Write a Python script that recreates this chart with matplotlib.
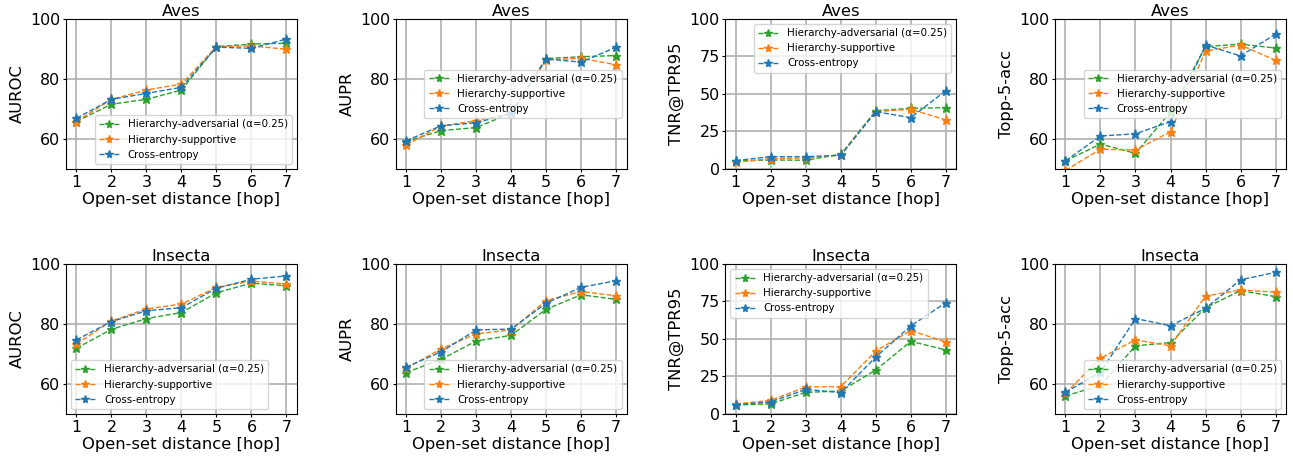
import matplotlib.pyplot as plt

hops = [1, 2, 3, 4, 5, 6, 7]
labels = ['Hierarchy-adversarial (α=0.25)', 'Hierarchy-supportive', 'Cross-entropy']
colors = ['tab:green', 'tab:orange', 'tab:blue']

# Aves
aves_auroc_adv = [65.8, 71.6, 73.2, 76.3, 90.8, 91.6, 91.9]
aves_auroc_sup = [65.8, 73.2, 76.3, 78.3, 90.8, 91.0, 89.9]
aves_auroc_ce = [66.9, 73.2, 75.2, 77.2, 90.6, 90.2, 93.3]

aves_aupr_adv = [59.1, 62.8, 63.8, 68.6, 86.8, 87.4, 87.8]
aves_aupr_sup = [58.0, 64.3, 66.1, 68.6, 86.3, 86.9, 84.7]
aves_aupr_ce = [59.4, 64.4, 65.4, 68.6, 86.7, 85.6, 90.6]

aves_tnr_adv = [5.3, 6.0, 5.8, 9.8, 38.9, 40.4, 40.9]
aves_tnr_sup = [4.4, 6.9, 7.3, 9.3, 38.2, 39.8, 32.7]
aves_tnr_ce = [5.6, 8.2, 8.2, 9.1, 38.2, 34.2, 52.2]

aves_top5_adv = [52.7, 58.3, 55.2, 69.0, 90.8, 91.6, 90.3]
aves_top5_sup = [49.5, 56.6, 56.3, 62.4, 89.3, 91.3, 86.2]
aves_top5_ce = [52.7, 61.0, 61.7, 65.8, 91.3, 87.7, 94.9]

# Insecta
ins_auroc_adv = [71.9, 78.2, 81.8, 83.8, 90.4, 93.6, 92.7]
ins_auroc_sup = [73.3, 81.0, 85.0, 86.6, 92.2, 94.3, 93.3]
ins_auroc_ce = [74.7, 80.8, 84.4, 85.4, 91.9, 94.9, 96.0]

ins_aupr_adv = [63.8, 68.2, 74.3, 76.2, 84.9, 89.7, 88.2]
ins_aupr_sup = [65.2, 71.7, 76.7, 78.0, 87.8, 90.8, 89.4]
ins_aupr_ce = [65.6, 70.7, 78.0, 78.3, 86.9, 92.2, 94.4]

ins_tnr_adv = [6.0, 6.7, 14.4, 15.3, 29.3, 48.4, 42.7]
ins_tnr_sup = [6.7, 9.1, 18.0, 18.2, 42.0, 55.6, 48.0]
ins_tnr_ce = [6.2, 8.0, 16.4, 14.2, 38.0, 58.7, 74.2]

ins_top5_adv = [56.0, 59.5, 72.7, 73.8, 85.4, 91.1, 89.1]
ins_top5_sup = [56.9, 68.6, 74.7, 72.7, 89.3, 91.3, 90.6]
ins_top5_ce = [57.2, 63.9, 81.8, 79.4, 85.2, 94.7, 97.2]

panels = [
    ('Aves', 'AUROC', [aves_auroc_adv, aves_auroc_sup, aves_auroc_ce], 'lower right'),
    ('Aves', 'AUPR', [aves_aupr_adv, aves_aupr_sup, aves_aupr_ce], 'center right'),
    ('Aves', 'TNR@TPR95', [aves_tnr_adv, aves_tnr_sup, aves_tnr_ce], 'upper right'),
    ('Aves', 'Topp-5-acc', [aves_top5_adv, aves_top5_sup, aves_top5_ce], 'center right'),
    ('Insecta', 'AUROC', [ins_auroc_adv, ins_auroc_sup, ins_auroc_ce], 'lower left'),
    ('Insecta', 'AUPR', [ins_aupr_adv, ins_aupr_sup, ins_aupr_ce], 'lower right'),
    ('Insecta', 'TNR@TPR95', [ins_tnr_adv, ins_tnr_sup, ins_tnr_ce], 'upper left'),
    ('Insecta', 'Topp-5-acc', [ins_top5_adv, ins_top5_sup, ins_top5_ce], 'lower right'),
]

fig, axes = plt.subplots(2, 4, figsize=(12.93, 4.62), dpi=100)
plt.subplots_adjust(left=0.051, right=0.9946, top=0.959, bottom=0.104,
                    wspace=0.427, hspace=0.633)

for ax, (title, metric, series, loc) in zip(axes.flat, panels):
    for vals, lab, col in zip(series, labels, colors):
        ax.plot(hops, vals, '--', marker='*', color=col, label=lab,
                linewidth=1, markersize=6.5)
    if metric == 'TNR@TPR95':
        ax.set_ylim(0, 100)
        ax.set_yticks([0, 25, 50, 75, 100])
    else:
        ax.set_ylim(50, 100)
        ax.set_yticks([60, 80, 100])
    ax.set_xticks(hops)
    ax.grid(True, linewidth=1.2)
    ax.tick_params(labelsize=11.4, length=2.5, pad=1.5)
    ax.set_title(title, fontsize=11.8, pad=2)
    ax.set_ylabel(metric, fontsize=11.8, labelpad=4)
    ax.set_xlabel('Open-set distance [hop]', fontsize=11.8, labelpad=2)
    ax.legend(loc=loc, fontsize=7.4, handlelength=2.0, markerscale=0.9)

plt.savefig('out.png')
